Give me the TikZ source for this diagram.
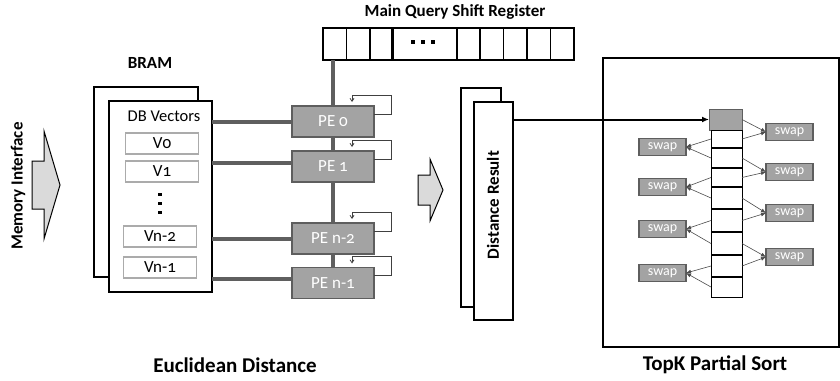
\documentclass[tikz,border=0pt]{standalone}
\usepackage{fontspec}
\setmainfont{Carlito}[Numbers=OldStyle]
\usetikzlibrary{arrows.meta}
\definecolor{peFill}{HTML}{A3A3A3}
\definecolor{peEdge}{HTML}{5E5E5E}
\definecolor{busGray}{HTML}{5F5F5F}
\definecolor{vEdge}{HTML}{ABABAB}
\definecolor{arrowFill}{HTML}{DADADA}
\begin{document}
\begin{tikzpicture}[x=1pt,y=-1pt,
  every node/.style={inner sep=0pt, outer sep=0pt},
  panel/.style={draw=black, line width=2pt, fill=white},
  vecbox/.style={draw=vEdge, line width=1.3pt, minimum width=73pt, minimum height=21pt, font=\fontsize{17}{17}\selectfont},
  pebox/.style={draw=peEdge, line width=1.5pt, fill=peFill, minimum width=82pt, minimum height=31pt, text=white, font=\fontsize{17}{17}\selectfont},
  bus/.style={draw=busGray, line width=4pt},
  fb/.style={draw=black!75, line width=0.8pt, -{Straight Barb[length=3pt,width=4pt]}},
  regcell/.style={draw=black, line width=1.5pt, minimum height=32pt},
  lbl/.style={font=\bfseries\fontsize{17}{17}\selectfont},
  biglbl/.style={font=\bfseries\fontsize{21}{21}\selectfont},
  sortcell/.style={draw=black, line width=1pt, minimum width=31pt},
  swapbox/.style={draw=peEdge, line width=1.2pt, fill=peFill, minimum width=47pt, minimum height=17pt, text=white, font=\fontsize{14}{14}\selectfont},
  swl/.style={draw=black!70, line width=0.6pt, -{Latex[length=5pt,width=4pt]}},
  bigarrow/.style={draw=black, line width=1pt, fill=arrowFill},
]
\useasboundingbox (0,0) rectangle (840,380);

% ---------- BRAM with the database vectors ----------
\node[panel, anchor=north west, minimum width=104pt, minimum height=190pt] (bramback) at (94,87) {};
\node[panel, anchor=north west, minimum width=103pt, minimum height=191pt] (bramfront) at (109,101) {};
\node[lbl] (bramlbl) at (150,63) {BRAM};
\node[font=\fontsize{16.5}{16.5}\selectfont] (dbv) at (164,116) {DB Vectors};
\node[vecbox] (v0) at (162,143.5) {V0};
\node[vecbox] (v1) at (162,171.5) {V1};
\node[vecbox] (vn2) at (160,236.5) {Vn-2};
\node[vecbox] (vn1) at (160,267.5) {Vn-1};
\foreach \y in {194.5,203.5,212.5}
  \fill[black] (158.2,{\y-1.8}) rectangle (161.8,{\y+1.8});

% ---------- memory interface ----------
\filldraw[bigarrow] (32,161) -- (44,161) -- (44,131) -- (60,185) -- (44,239) -- (44,209) -- (32,209) -- cycle;
\node[lbl, rotate=90] (memlbl) at (18,186) {Memory Interface};

% ---------- main query shift register ----------
\node[lbl] (srlbl) at (455,12) {Main Query Shift Register};
\foreach \n/\cx/\w in {r1/334.75/23.5, r2/358.25/23.5, r3/381.75/23.5, rd/424.25/65,
    r5/468.25/23.5, r6/491.75/23.5, r7/515.25/23.5, r8/538.75/23.5, r9/562.25/23.5}
  \node[regcell, minimum width=\w pt] (\n) at (\cx,44) {};
\foreach \x in {413,423,433}
  \fill[black] ({\x-1.8},40.2) rectangle ({\x+1.8},43.8);

% ---------- processing elements ----------
\node[pebox] (pe0) at (333,121.5) {PE 0};
\node[pebox] (pe1) at (333,166.5) {PE 1};
\node[pebox] (pen2) at (333,238.5) {PE n-2};
\node[pebox] (pen1) at (333,283) {PE n-1};

\draw[bus] (r1.south -| pe0.north) -- (pe0.north);
\draw[bus] (pe0.south) -- (pe1.north);
\draw[bus] (pe1.south) -- (pen2.north);
\draw[bus] (pen2.south) -- (pen1.north);

\draw[bus] (bramfront.east |- pe0.west) -- (pe0.west);
\draw[bus] ([yshift=3.5pt]pe1.west -| bramfront.east) -- ([yshift=3.5pt]pe1.west);
\draw[bus] (bramfront.east |- pen2.west) -- (pen2.west);
\draw[bus] ([yshift=4pt]pen1.west -| bramfront.east) -- ([yshift=4pt]pen1.west);

\foreach \p in {pe0,pe1,pen2,pen1}
  \draw[fb] ([yshift=7.5pt]\p.east) -- ++(17,0)
    |- ([xshift=-22pt,yshift=11pt]\p.north east)
    -- ([xshift=-22pt,yshift=4pt]\p.north east);

% ---------- distance results ----------
\filldraw[bigarrow] (418,175) -- (430,175) -- (430,159) -- (443,190) -- (430,221) -- (430,205) -- (418,205) -- cycle;
\node[panel, anchor=north west, minimum width=40pt, minimum height=219pt] (drback) at (461,88) {};
\node[panel, anchor=north west, minimum width=39pt, minimum height=218pt] (drfront) at (474,102) {};
\node[lbl, rotate=90] (drlbl) at (493,205) {Distance Result};

% ---------- top-k partial sort ----------
\node[panel, anchor=north west, minimum width=236pt, minimum height=289pt] (topk) at (603,58) {};
\node[draw=peEdge, line width=1pt, fill=peFill, minimum width=33pt, minimum height=21pt] (head) at (725.5,119.5) {};
\foreach \n/\t/\b in {c1/130/148, c2/148/168, c3/168/187, c4/187/209,
    c5/209/232, c6/232/255, c7/255/277, c8/277/297}
  \node[sortcell, anchor=north, minimum height={\b-\t}] (\n) at (726.5,\t) {};
\foreach \n in {c1,c2,c3,c4,c5,c6,c7}
  \draw[line width=2pt] (\n.south west) -- (\n.south east);

\foreach \n/\y in {ls1/147, ls2/187, ls3/229, ls4/273}
  \node[swapbox] (\n) at (662.5,\y) {swap};
\foreach \n/\y in {rs1/132, rs2/172, rs3/213, rs4/257}
  \node[swapbox] (\n) at (789.5,\y) {swap};

\foreach \a/\b/\s in {c1/c2/ls1, c3/c4/ls2, c5/c6/ls3, c7/c8/ls4} {
  \draw[swl] (\a.west) -- (\s.east);
  \draw[swl] (\b.west) -- (\s.east);
}
\foreach \a/\b/\s in {head/c1/rs1, c2/c3/rs2, c4/c5/rs3, c6/c7/rs4} {
  \draw[swl] (\a.east) -- (\s.west);
  \draw[swl] (\b.east) -- (\s.west);
}

\draw[line width=2pt, -{Latex[length=7pt,width=6pt]}] (drfront.east |- head.west) -- (head.west);

% ---------- captions ----------
\node[biglbl] (edlbl) at (235,365) {Euclidean Distance};
\node[biglbl] (tklbl) at (715,365) {TopK Partial Sort};
\end{tikzpicture}
\end{document}
